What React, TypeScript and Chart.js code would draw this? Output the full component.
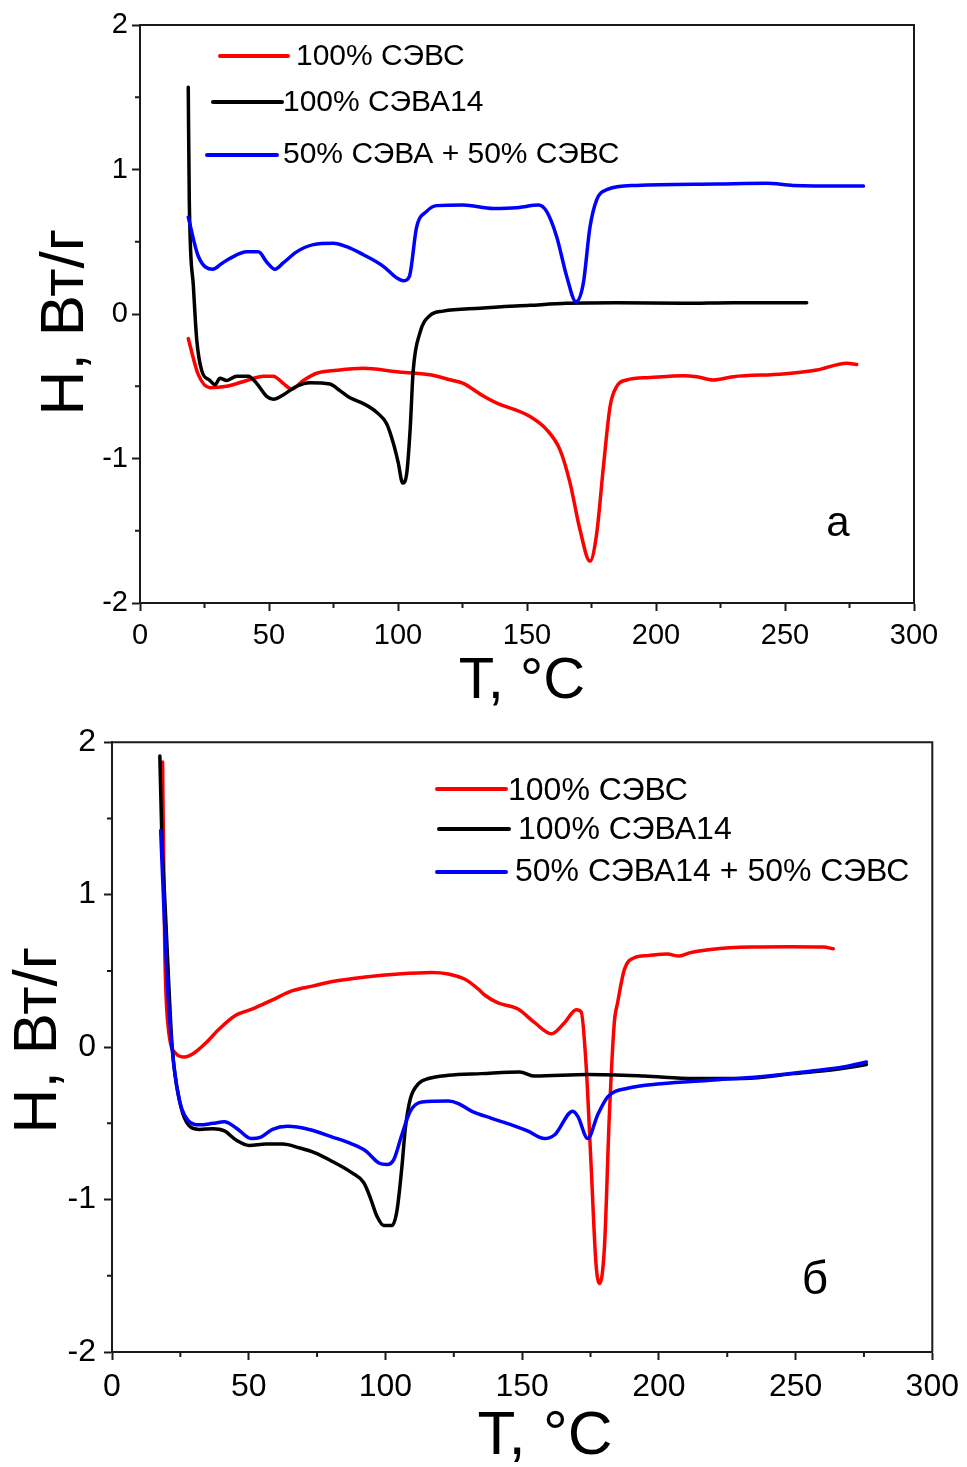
import React, { useEffect, useRef } from "react";
import { Chart, registerables } from "chart.js";

Chart.register(...registerables);

// ---------- DATA ----------
// Panel a
const aRedT = [18.7, 22.6, 27.1, 33.6, 41.4, 47.8, 51.7, 55.5, 58.8, 63.3, 68.5, 76.2, 86.6, 99.5, 112.4, 120.2, 125.3, 132.4, 138.8, 145.0, 151.2, 157.6, 162.8, 166.7, 170.5, 174.4, 177.0, 179.6, 182.2, 184.8, 188.6, 197.7, 210.6, 215.8, 222.2, 230.0, 249.3, 262.3, 273.9, 277.8];
const aRedH = [-0.17, -0.42, -0.51, -0.50, -0.46, -0.43, -0.43, -0.48, -0.52, -0.46, -0.41, -0.39, -0.376, -0.40, -0.42, -0.455, -0.48, -0.56, -0.62, -0.66, -0.71, -0.80, -0.94, -1.17, -1.49, -1.71, -1.52, -1.06, -0.64, -0.50, -0.457, -0.44, -0.427, -0.434, -0.457, -0.434, -0.415, -0.388, -0.34, -0.35];

const aBlackT = [18.7, 19.1, 20.7, 22.0, 23.9, 27.1, 29.1, 31.0, 33.6, 37.5, 42.0, 45.2, 49.1, 51.7, 55.5, 60.7, 65.9, 73.6, 77.5, 81.4, 86.6, 91.7, 95.6, 98.2, 100.1, 101.8, 103.4, 104.7, 105.9, 108.5, 112.4, 117.5, 131.8, 151.2, 165.4, 184.8, 210.6, 230.0, 258.4];
const aBlackH = [1.57, 0.79, 0.19, -0.18, -0.39, -0.46, -0.49, -0.445, -0.46, -0.43, -0.43, -0.48, -0.57, -0.59, -0.56, -0.50, -0.475, -0.485, -0.53, -0.58, -0.62, -0.68, -0.76, -0.895, -1.03, -1.17, -1.10, -0.80, -0.39, -0.13, -0.01, 0.02, 0.04, 0.06, 0.074, 0.078, 0.074, 0.078, 0.078];

const aBlueT = [18.7, 22.6, 28.2, 31.7, 34.9, 41.4, 45.9, 49.1, 52.3, 55.6, 60.7, 67.2, 74.9, 80.1, 86.6, 94.3, 99.5, 102.0, 104.4, 107.2, 111.1, 115.0, 125.3, 136.9, 146.0, 154.4, 157.6, 161.5, 165.4, 169.0, 171.8, 174.4, 177.0, 180.9, 192.5, 223.5, 242.9, 253.2, 280.4];
const aBlueH = [0.67, 0.40, 0.31, 0.35, 0.385, 0.43, 0.43, 0.36, 0.31, 0.355, 0.43, 0.48, 0.49, 0.466, 0.41, 0.33, 0.25, 0.23, 0.26, 0.60, 0.71, 0.75, 0.754, 0.73, 0.735, 0.754, 0.71, 0.535, 0.26, 0.085, 0.21, 0.60, 0.79, 0.86, 0.89, 0.90, 0.905, 0.89, 0.885];

// Panel б
const bRedT = [18.5, 19.3, 20.5, 23.5, 26.6, 29.6, 34.5, 39.3, 45.4, 51.4, 58.7, 66.0, 73.3, 80.6, 92.7, 104.8, 117.0, 123.0, 129.1, 134.0, 136.4, 141.2, 148.5, 154.6, 160.7, 165.5, 169.8, 171.6, 173.4, 175.2, 177.0, 178.3, 180.1, 181.9, 183.7, 184.9, 187.4, 191.0, 195.9, 203.1, 207.4, 211.6, 218.9, 233.4, 248.0, 260.2, 263.8];
const bRedH = [1.87, 0.64, 0.14, -0.044, -0.065, -0.044, 0.03, 0.12, 0.21, 0.25, 0.31, 0.37, 0.40, 0.43, 0.46, 0.48, 0.49, 0.48, 0.445, 0.38, 0.34, 0.29, 0.25, 0.16, 0.087, 0.16, 0.245, 0.23, -0.12, -0.77, -1.42, -1.55, -1.31, -0.445, 0.16, 0.29, 0.51, 0.586, 0.60, 0.61, 0.597, 0.62, 0.64, 0.656, 0.658, 0.656, 0.645];

const bBlackT = [17.5, 18.2, 19.5, 20.8, 22.0, 24.8, 27.2, 32.0, 36.9, 41.1, 45.4, 50.2, 56.3, 62.4, 68.4, 74.5, 80.6, 87.8, 92.1, 94.5, 96.9, 99.4, 102.4, 104.2, 106.0, 107.3, 109.1, 112.1, 115.8, 123.0, 135.2, 149.1, 154.6, 174.0, 194.6, 212.8, 231.0, 249.3, 265.0, 275.9];
const bBlackH = [1.91, 1.4, 0.9, 0.4, 0.0, -0.36, -0.49, -0.54, -0.536, -0.55, -0.61, -0.645, -0.636, -0.636, -0.66, -0.695, -0.75, -0.825, -0.89, -0.99, -1.11, -1.17, -1.17, -1.075, -0.79, -0.53, -0.34, -0.24, -0.206, -0.185, -0.174, -0.163, -0.19, -0.18, -0.19, -0.206, -0.206, -0.174, -0.145, -0.115];

const bBlueT = [17.8, 19.0, 20.0, 21.1, 23.6, 27.8, 32.0, 36.9, 41.1, 45.4, 50.9, 54.5, 58.7, 64.2, 72.1, 80.6, 87.8, 92.7, 97.6, 100.6, 103.0, 106.0, 109.1, 113.3, 123.0, 126.7, 131.5, 138.8, 146.1, 152.0, 158.2, 161.9, 168.5, 170.4, 174.0, 177.6, 181.3, 188.6, 200.7, 218.9, 237.1, 255.3, 267.5, 275.9];
const bBlueH = [1.42, 0.9, 0.5, 0.18, -0.25, -0.48, -0.51, -0.50, -0.49, -0.53, -0.60, -0.59, -0.54, -0.52, -0.54, -0.59, -0.636, -0.68, -0.76, -0.77, -0.74, -0.575, -0.42, -0.36, -0.354, -0.37, -0.42, -0.467, -0.51, -0.55, -0.60, -0.575, -0.42, -0.456, -0.60, -0.445, -0.326, -0.27, -0.24, -0.217, -0.195, -0.158, -0.13, -0.098];

const labelsA = ["100% СЭВС", "100% СЭВА14", "50% СЭВА + 50% СЭВС"];
const labelsB = ["100% СЭВС", "100% СЭВА14", "50% СЭВА14 + 50% СЭВС"];
const seriesColors = ["#ff0000", "#000000", "#0000ff"];
const xTitleText = "T, °C";
const yTitleText = "H, Вт/г";
const panelLetterA = "а";
const panelLetterB = "б";
const xRange = [0, 300];
const yRange = [-2, 2];
const xStep = 50;
const yStep = 1;

// ---------- helpers ----------
const FONT = "'Liberation Sans', Arial, Helvetica, sans-serif";
const AXIS = "#1a1a1a";

const pts = (t: number[], h: number[]) => t.map((x, i) => ({ x, y: h[i] }));

type LegendPos = { x1: number; x2: number; y: number; tx: number; ty: number };
type PanelCfg = {
  top: number;
  height: number;
  plotLeft: number;
  plotRight: number;
  plotTop: number;
  plotBottom: number;
  series: { t: number[]; h: number[] }[];
  labels: string[];
  tickFont: number;
  yTickPad: number;
  xTickPad: number;
  xTitleFont: number;
  xTitleX: number;
  xTitleY: number;
  yTitleFont: number;
  yTitleX: number;
  yTitleY: number;
  legend: LegendPos[];
  legendFont: number;
  letter: string;
  letterX: number;
  letterY: number;
  letterFont: number;
};

function Panel({ cfg }: { cfg: PanelCfg }) {
  const ref = useRef<HTMLCanvasElement | null>(null);
  useEffect(() => {
    if (!ref.current) return;
    const W = 967;
    const decor = {
      id: "decor",
      afterDraw(chart: any) {
        const { ctx, chartArea: a, scales } = chart;
        const x = scales.x;
        const y = scales.y;
        ctx.save();
        ctx.strokeStyle = AXIS;
        ctx.lineWidth = 2;
        ctx.beginPath();
        ctx.moveTo(a.left, a.top);
        ctx.lineTo(a.right, a.top);
        ctx.lineTo(a.right, a.bottom);
        ctx.stroke();
        // minor ticks
        ctx.beginPath();
        for (let v = xRange[0] + xStep / 2; v < xRange[1]; v += xStep) {
          const px = x.getPixelForValue(v);
          ctx.moveTo(px, a.bottom);
          ctx.lineTo(px, a.bottom + 5);
        }
        for (let v = yRange[0] + yStep / 2; v < yRange[1]; v += yStep) {
          const py = y.getPixelForValue(v);
          ctx.moveTo(a.left, py);
          ctx.lineTo(a.left - 5, py);
        }
        ctx.stroke();
        // axis titles
        ctx.fillStyle = "#000";
        ctx.textAlign = "center";
        ctx.textBaseline = "middle";
        ctx.font = `${cfg.xTitleFont}px ${FONT}`;
        ctx.fillText(xTitleText, cfg.xTitleX, cfg.xTitleY);
        ctx.save();
        ctx.translate(cfg.yTitleX, cfg.yTitleY);
        ctx.rotate(-Math.PI / 2);
        ctx.font = `${cfg.yTitleFont}px ${FONT}`;
        ctx.fillText(yTitleText, 0, 0);
        ctx.restore();
        // legend
        cfg.legend.forEach((it, i) => {
          const ds = chart.data.datasets[i];
          ctx.strokeStyle = ds.borderColor;
          ctx.lineWidth = 4;
          ctx.lineCap = "round";
          ctx.beginPath();
          ctx.moveTo(it.x1, it.y);
          ctx.lineTo(it.x2, it.y);
          ctx.stroke();
          ctx.fillStyle = "#000";
          ctx.font = `${cfg.legendFont}px ${FONT}`;
          ctx.textAlign = "left";
          ctx.textBaseline = "middle";
          ctx.fillText(ds.label, it.tx, it.ty);
        });
        // panel letter
        ctx.fillStyle = "#000";
        ctx.font = `${cfg.letterFont}px ${FONT}`;
        ctx.textAlign = "center";
        ctx.textBaseline = "middle";
        ctx.fillText(cfg.letter, cfg.letterX, cfg.letterY);
        ctx.restore();
      },
    };

    const chart = new Chart(ref.current, {
      type: "line",
      data: {
        datasets: cfg.series.map((s, i) => ({
          label: cfg.labels[i],
          data: pts(s.t, s.h),
          borderColor: seriesColors[i],
          backgroundColor: seriesColors[i],
          borderWidth: 3.5,
          pointRadius: 0,
          tension: 0,
          cubicInterpolationMode: "monotone" as const,
          borderJoinStyle: "round" as const,
          borderCapStyle: "round" as const,
          fill: false,
          order: 2 - i,
        })),
      },
      options: {
        responsive: false,
        animation: false,
        devicePixelRatio: 1,
        layout: {
          padding: {
            left: 0,
            right: W - cfg.plotRight,
            top: cfg.plotTop,
            bottom: 0,
          },
        },
        plugins: {
          legend: { display: false },
          tooltip: { enabled: false },
          title: { display: false },
        },
        scales: {
          x: {
            type: "linear",
            min: xRange[0],
            max: xRange[1],
            afterFit(scale: any) {
              scale.height = cfg.height - cfg.plotBottom;
            },
            ticks: {
              stepSize: xStep,
              color: "#000",
              padding: cfg.xTickPad,
              maxRotation: 0,
              font: { family: FONT, size: cfg.tickFont },
            },
            grid: {
              drawOnChartArea: false,
              drawTicks: true,
              tickLength: 8,
              tickWidth: 2,
              tickColor: AXIS,
            },
            border: { display: true, color: AXIS, width: 2 },
            title: { display: false, text: xTitleText },
          },
          y: {
            type: "linear",
            min: yRange[0],
            max: yRange[1],
            afterFit(scale: any) {
              scale.width = cfg.plotLeft;
            },
            ticks: {
              stepSize: yStep,
              color: "#000",
              padding: cfg.yTickPad,
              font: { family: FONT, size: cfg.tickFont },
            },
            grid: {
              drawOnChartArea: false,
              drawTicks: true,
              tickLength: 8,
              tickWidth: 2,
              tickColor: AXIS,
            },
            border: { display: true, color: AXIS, width: 2 },
            title: { display: false, text: yTitleText },
          },
        },
      },
      plugins: [decor],
    } as any);
    return () => chart.destroy();
  }, [cfg]);

  return (
    <canvas
      ref={ref}
      width={967}
      height={cfg.height}
      style={{ position: "absolute", left: 0, top: cfg.top, width: 967, height: cfg.height }}
    />
  );
}

const cfgA: PanelCfg = {
  top: 0,
  height: 715,
  plotLeft: 140,
  plotRight: 914,
  plotTop: 25,
  plotBottom: 603,
  series: [
    { t: aRedT, h: aRedH },
    { t: aBlackT, h: aBlackH },
    { t: aBlueT, h: aBlueH },
  ],
  labels: labelsA,
  tickFont: 29,
  yTickPad: 4,
  xTickPad: 8,
  xTitleFont: 58,
  xTitleX: 522,
  xTitleY: 682,
  yTitleFont: 62,
  yTitleX: 66,
  yTitleY: 322,
  legend: [
    { x1: 220, x2: 288, y: 56, tx: 296, ty: 57 },
    { x1: 213, x2: 282, y: 102, tx: 283, ty: 103 },
    { x1: 207, x2: 277, y: 155, tx: 283, ty: 155 },
  ],
  legendFont: 30,
  letter: panelLetterA,
  letterX: 838,
  letterY: 524,
  letterFont: 42,
};

const cfgB: PanelCfg = {
  top: 715,
  height: 752,
  plotLeft: 112,
  plotRight: 935,
  plotTop: 23,
  plotBottom: 637,
  series: [
    { t: bRedT, h: bRedH },
    { t: bBlackT, h: bBlackH },
    { t: bBlueT, h: bBlueH },
  ],
  labels: labelsB,
  tickFont: 32,
  yTickPad: 8,
  xTickPad: 8,
  xTitleFont: 62,
  xTitleX: 545,
  xTitleY: 722,
  yTitleFont: 62,
  yTitleX: 39,
  yTitleY: 325,
  legend: [
    { x1: 437, x2: 506, y: 74, tx: 508, ty: 76 },
    { x1: 439, x2: 509, y: 114, tx: 518, ty: 115 },
    { x1: 437, x2: 506, y: 157, tx: 515, ty: 157 },
  ],
  legendFont: 32,
  letter: panelLetterB,
  letterX: 815,
  letterY: 566,
  letterFont: 46,
};

export default function App() {
  return (
    <div
      style={{
        position: "absolute",
        left: 0,
        top: 0,
        width: 967,
        height: 1467,
        overflow: "hidden",
        background: "#fff",
      }}
    >
      <Panel cfg={cfgA} />
      <Panel cfg={cfgB} />
    </div>
  );
}
